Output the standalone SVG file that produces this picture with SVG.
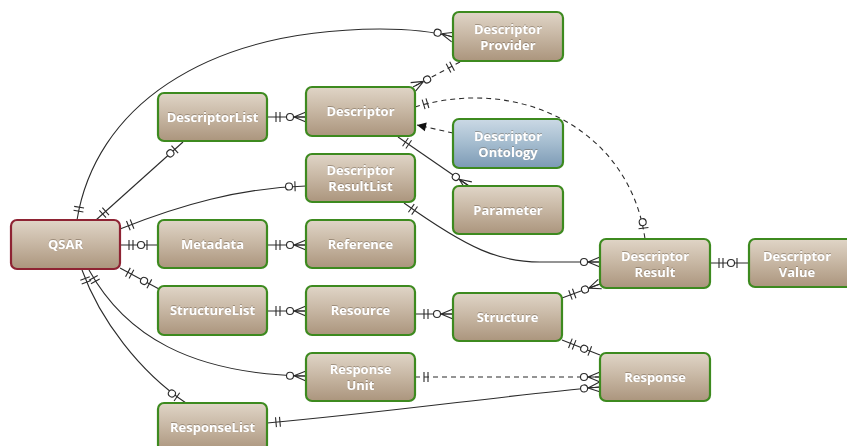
<svg xmlns="http://www.w3.org/2000/svg" width="847" height="446" viewBox="0 0 847 446">
<style>
  .box { fill: url(#gBeige); stroke: #3d8a1f; stroke-width: 2.2; }
  .box.root { stroke: #8e2333; }
  .box.onto { fill: url(#gBlue); }
  .gloss { fill: url(#gGloss); stroke: none; }
  .lbl { font-family: "Open Sans", "Liberation Sans", sans-serif; font-weight: bold; font-size: 13px; fill: #ffffff; text-anchor: middle; filter: url(#tshadow); }
  .conn path { fill: none; stroke: #2b2b2b; stroke-width: 1.1; }
  .conn path.dash { stroke-dasharray: 5 4; }
  .mk { fill: none; stroke: #2b2b2b; stroke-width: 1.1; stroke-dasharray: none; }
  .mkc { fill: #ffffff; stroke: #2b2b2b; stroke-width: 1.1; stroke-dasharray: none; }
  .mka { fill: #111111; stroke: none; }
</style>
<defs>
  <linearGradient id="gBeige" x1="0" y1="0" x2="0" y2="1">
    <stop offset="0" stop-color="#e0d5c7"/>
    <stop offset="0.45" stop-color="#c9b9a6"/>
    <stop offset="1" stop-color="#ab957d"/>
  </linearGradient>
  <linearGradient id="gBlue" x1="0" y1="0" x2="0" y2="1">
    <stop offset="0" stop-color="#cbd9e5"/>
    <stop offset="0.45" stop-color="#a8bfd1"/>
    <stop offset="1" stop-color="#7c9ab5"/>
  </linearGradient>
  <linearGradient id="gGloss" x1="0" y1="0" x2="0" y2="1">
    <stop offset="0" stop-color="#ffffff" stop-opacity="0.35"/>
    <stop offset="1" stop-color="#ffffff" stop-opacity="0"/>
  </linearGradient>
  <filter id="tshadow" x="-10%" y="-30%" width="120%" height="160%">
    <feDropShadow dx="0" dy="-0.6" stdDeviation="0.5" flood-color="#5a4a38" flood-opacity="0.7"/>
  </filter>
  <marker id="one" markerUnits="userSpaceOnUse" markerWidth="1" markerHeight="1" refX="0" refY="0" orient="auto-start-reverse" overflow="visible">
    <path class="mk" d="M-9,-5 L-9,5 M-13,-5 L-13,5"/>
  </marker>
  <marker id="zeroOne" markerUnits="userSpaceOnUse" markerWidth="1" markerHeight="1" refX="0" refY="0" orient="auto-start-reverse" overflow="visible">
    <path class="mk" d="M-11,-5 L-11,5"/>
    <circle class="mkc" cx="-17" cy="0" r="3.5"/>
  </marker>
  <marker id="zeroMany" markerUnits="userSpaceOnUse" markerWidth="1" markerHeight="1" refX="0" refY="0" orient="auto-start-reverse" overflow="visible">
    <path class="mk" d="M-12,0 L0,-5 M-12,0 L0,5 M-12,0 L0,0"/>
    <circle class="mkc" cx="-16" cy="0" r="3.5"/>
  </marker>
  <marker id="arrow" markerUnits="userSpaceOnUse" markerWidth="1" markerHeight="1" refX="0" refY="0" orient="auto" overflow="visible">
    <path class="mka" d="M-9,-4.5 L0,0 L-9,4.5 Z"/>
  </marker>
</defs>

<g id="connectors" class="conn">
  <path d="M77,220 C95,110 200,30 380,29 C415,29 435,32 453,37" marker-start="url(#one)" marker-end="url(#zeroMany)"/>
  <path d="M96,220 L183,142" marker-start="url(#one)" marker-end="url(#zeroOne)"/>
  <path d="M267,117 L306,117" marker-start="url(#one)" marker-end="url(#zeroMany)"/>
  <path d="M120,229 C180,205 240,188 306,186" marker-start="url(#one)" marker-end="url(#zeroOne)"/>
  <path d="M120,245 L158,245" marker-start="url(#one)" marker-end="url(#zeroOne)"/>
  <path d="M267,245 L306,245" marker-start="url(#one)" marker-end="url(#zeroMany)"/>
  <path d="M120,268 L159,289" marker-start="url(#one)" marker-end="url(#zeroOne)"/>
  <path d="M267,311 L306,311" marker-start="url(#one)" marker-end="url(#zeroMany)"/>
  <path d="M415,314 L453,314" marker-start="url(#one)" marker-end="url(#zeroMany)"/>
  <path d="M89,270 C125,335 190,374 306,376" marker-start="url(#one)" marker-end="url(#zeroMany)"/>
  <path d="M82,270 C100,320 140,372 186,403" marker-start="url(#one)" marker-end="url(#zeroOne)"/>
  <path d="M267,423 C400,411 500,396 600,387" marker-start="url(#one)" marker-end="url(#zeroMany)"/>
  <path class="dash" d="M415,377 L600,377" marker-start="url(#one)" marker-end="url(#zeroMany)"/>
  <path d="M562,340 L600,355" marker-start="url(#one)" marker-end="url(#zeroOne)"/>
  <path d="M562,298 L600,284" marker-start="url(#one)" marker-end="url(#zeroMany)"/>
  <path d="M404,203 C470,250 500,262 540,262 L600,262" marker-start="url(#one)" marker-end="url(#zeroMany)"/>
  <path d="M398,137 L469,186" marker-start="url(#one)" marker-end="url(#zeroMany)"/>
  <path class="dash" d="M460,62 L413,87" marker-start="url(#one)" marker-end="url(#zeroMany)"/>
  <path class="dash" d="M453,133 L417,125" marker-end="url(#arrow)"/>
  <path class="dash" d="M415,107 C520,75 630,130 645,239" marker-start="url(#one)" marker-end="url(#zeroOne)"/>
  <path d="M710,263 L748,263" marker-start="url(#one)" marker-end="url(#zeroOne)"/>
</g>

<g id="QSAR"><rect class="box root" x="11" y="220" width="109" height="49" rx="6"/><text class="lbl" x="65.5" y="249">QSAR</text></g>
<g id="DescriptorList"><rect class="box" x="158" y="93" width="109" height="48" rx="6"/><text class="lbl" x="212.5" y="121.5">DescriptorList</text></g>
<g id="Descriptor"><rect class="box" x="306" y="87" width="109" height="49" rx="6"/><text class="lbl" x="360.5" y="116">Descriptor</text></g>
<g id="DescriptorResultList"><rect class="box" x="306" y="154" width="109" height="48" rx="6"/><text class="lbl" x="360.5" y="175">Descriptor</text><text class="lbl" x="360.5" y="191">ResultList</text></g>
<g id="DescriptorProvider"><rect class="box" x="453" y="12" width="110" height="49" rx="6"/><text class="lbl" x="508" y="34">Descriptor</text><text class="lbl" x="508" y="50">Provider</text></g>
<g id="DescriptorOntology"><rect class="box onto" x="453" y="119" width="110" height="49" rx="6"/><text class="lbl" x="508" y="141">Descriptor</text><text class="lbl" x="508" y="157">Ontology</text></g>
<g id="Parameter"><rect class="box" x="453" y="186" width="110" height="48" rx="6"/><text class="lbl" x="508" y="214.5">Parameter</text></g>
<g id="Metadata"><rect class="box" x="158" y="220" width="109" height="48" rx="6"/><text class="lbl" x="212.5" y="248.5">Metadata</text></g>
<g id="Reference"><rect class="box" x="306" y="220" width="109" height="48" rx="6"/><text class="lbl" x="360.5" y="248.5">Reference</text></g>
<g id="StructureList"><rect class="box" x="158" y="286" width="109" height="49" rx="6"/><text class="lbl" x="212.5" y="315">StructureList</text></g>
<g id="Resource"><rect class="box" x="306" y="286" width="109" height="49" rx="6"/><text class="lbl" x="360.5" y="315">Resource</text></g>
<g id="Structure"><rect class="box" x="453" y="293" width="109" height="48" rx="6"/><text class="lbl" x="507.5" y="321.5">Structure</text></g>
<g id="ResponseUnit"><rect class="box" x="306" y="353" width="109" height="48" rx="6"/><text class="lbl" x="360.5" y="374">Response</text><text class="lbl" x="360.5" y="390">Unit</text></g>
<g id="ResponseList"><rect class="box" x="158" y="403" width="109" height="48" rx="6"/><text class="lbl" x="212.5" y="431.5">ResponseList</text></g>
<g id="DescriptorResult"><rect class="box" x="600" y="239" width="110" height="49" rx="6"/><text class="lbl" x="655" y="261">Descriptor</text><text class="lbl" x="655" y="277">Result</text></g>
<g id="DescriptorValue"><rect class="box" x="749" y="239" width="110" height="48" rx="6"/><text class="lbl" x="797" y="261">Descriptor</text><text class="lbl" x="797" y="277">Value</text></g>
<g id="Response"><rect class="box" x="600" y="353" width="110" height="48" rx="6"/><text class="lbl" x="655" y="381.5">Response</text></g>
</svg>
